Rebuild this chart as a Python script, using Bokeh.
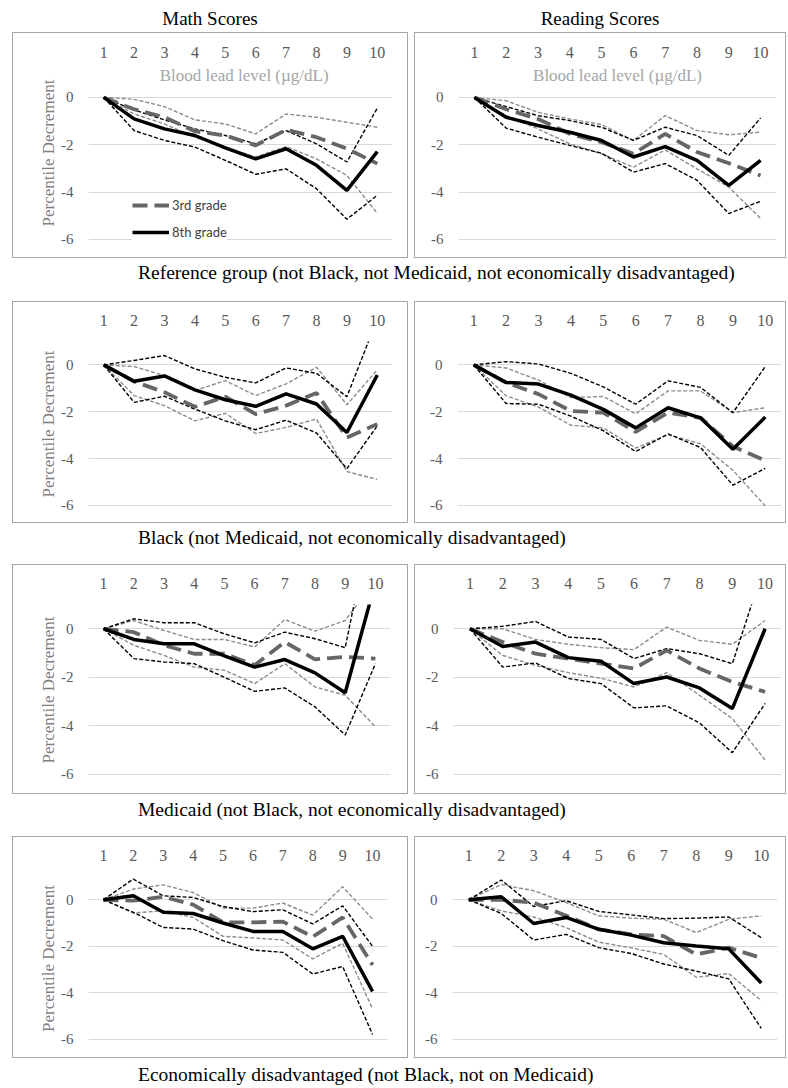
from bokeh.plotting import figure
from bokeh.layouts import column, row
from bokeh.models import Div, Spacer, Range1d, FixedTicker, Label, Legend, LegendItem
from bokeh.embed import file_html
from bokeh.resources import INLINE

# ---------------- data ----------------
lead_levels = [1, 2, 3, 4, 5, 6, 7, 8, 9, 10]
y_ticks = [0, -2, -4, -6]
y_tick_labels = {0: "0", -2: "-2", -4: "-4", -6: "-6"}
x_tick_labels = {i: str(i) for i in lead_levels}

column_titles = ["Math Scores", "Reading Scores"]
row_captions = [
    "Reference group (not Black, not Medicaid, not economically disadvantaged)",
    "Black (not Medicaid, not economically disadvantaged)",
    "Medicaid (not Black, not economically disadvantaged)",
    "Economically disadvantaged (not Black, not on Medicaid)",
]
series_names = ["3rd grade", "8th grade"]

# Reference group - Math
ref_math_g3 = [0, -0.50, -0.84, -1.43, -1.61, -2.03, -1.37, -1.68, -2.17, -2.80]
ref_math_g3_hi = [0, -0.08, -0.39, -0.95, -1.12, -1.54, -0.70, -0.84, -1.05, -1.26]
ref_math_g3_lo = [0, -0.70, -1.12, -1.68, -2.10, -2.52, -2.08, -2.60, -3.30, -4.90]
ref_math_g8 = [0, -0.91, -1.33, -1.61, -2.13, -2.60, -2.17, -2.87, -3.93, -2.29]
ref_math_g8_hi = [0, -0.53, -0.95, -1.33, -1.61, -1.96, -1.40, -1.96, -2.73, -0.45]
ref_math_g8_lo = [0, -1.40, -1.82, -2.10, -2.66, -3.25, -3.02, -3.86, -5.15, -4.14]

# Reference group - Reading
ref_read_g3 = [0, -0.50, -0.91, -1.54, -1.89, -2.38, -1.54, -2.31, -2.78, -3.30]
ref_read_g3_hi = [0, -0.14, -0.63, -0.91, -1.15, -1.82, -0.77, -1.40, -1.58, -1.47]
ref_read_g3_lo = [0, -0.77, -1.33, -1.96, -2.38, -2.95, -2.22, -3.02, -3.79, -5.12]
ref_read_g8 = [0, -0.84, -1.19, -1.47, -1.82, -2.52, -2.08, -2.66, -3.72, -2.66]
ref_read_g8_hi = [0, -0.39, -0.77, -0.98, -1.26, -1.82, -1.26, -1.61, -2.45, -0.87]
ref_read_g8_lo = [0, -1.30, -1.68, -2.03, -2.36, -3.16, -2.80, -3.50, -4.91, -4.39]

# Black - Math
blk_math_g3 = [0, -0.71, -1.17, -1.79, -1.36, -2.10, -1.74, -1.20, -3.10, -2.53]
blk_math_g3_hi = [0, -0.07, -0.46, -1.10, -0.67, -1.31, -0.81, -0.10, -1.70, -0.21]
blk_math_g3_lo = [0, -1.31, -1.74, -2.39, -2.07, -2.93, -2.67, -2.31, -4.56, -4.89]
blk_math_g8 = [0, -0.70, -0.47, -1.07, -1.49, -1.77, -1.24, -1.67, -2.89, -0.43]
blk_math_g8_hi = [0, 0.19, 0.40, -0.17, -0.53, -0.77, -0.13, -0.36, -1.36, 1.97]
blk_math_g8_lo = [0, -1.60, -1.34, -1.89, -2.39, -2.77, -2.36, -2.91, -4.43, -2.60]

# Black - Reading
blk_read_g3 = [0, -0.75, -1.25, -1.97, -2.04, -2.86, -2.04, -2.26, -3.48, -4.09]
blk_read_g3_hi = [0, -0.13, -0.65, -1.40, -1.35, -2.09, -1.11, -1.11, -2.04, -1.83]
blk_read_g3_lo = [0, -1.32, -1.80, -2.58, -2.69, -3.55, -2.98, -3.37, -4.50, -6.03]
blk_read_g8 = [0, -0.75, -0.82, -1.29, -1.90, -2.69, -1.83, -2.26, -3.60, -2.23]
blk_read_g8_hi = [0, 0.14, 0.04, -0.36, -0.94, -1.68, -0.68, -0.96, -2.04, -0.07]
blk_read_g8_lo = [0, -1.65, -1.68, -2.19, -2.81, -3.70, -2.95, -3.53, -5.14, -4.42]

# Medicaid - Math
med_math_g3 = [0, -0.14, -0.68, -1.03, -1.03, -1.50, -0.55, -1.26, -1.16, -1.23]
med_math_g3_hi = [0, 0.34, -0.07, -0.44, -0.44, -0.75, 0.38, -0.10, 0.34, 2.00]
med_math_g3_lo = [0, -0.68, -1.10, -1.58, -1.71, -2.26, -1.44, -2.40, -2.74, -4.04]
med_math_g8 = [0, -0.44, -0.62, -0.62, -1.12, -1.58, -1.27, -1.82, -2.64, 1.91]
med_math_g8_hi = [0, 0.41, 0.25, 0.25, -0.21, -0.58, -0.14, -0.41, -0.78, 5.30]
med_math_g8_lo = [0, -1.23, -1.37, -1.44, -2.00, -2.58, -2.44, -3.22, -4.38, -1.44]

# Medicaid - Reading
med_read_g3 = [0, -0.55, -1.03, -1.23, -1.44, -1.64, -0.89, -1.64, -2.19, -2.60]
med_read_g3_hi = [0, 0.00, -0.44, -0.64, -0.78, -0.86, 0.07, -0.48, -0.64, 0.34]
med_read_g3_lo = [0, -1.10, -1.51, -1.81, -2.04, -2.40, -1.81, -2.74, -3.70, -5.41]
med_read_g8 = [0, -0.73, -0.55, -1.19, -1.34, -2.26, -1.99, -2.44, -3.29, 0.00]
med_read_g8_hi = [0, 0.10, 0.30, -0.34, -0.44, -1.23, -0.82, -1.03, -1.44, 2.70]
med_read_g8_lo = [0, -1.58, -1.41, -2.05, -2.26, -3.26, -3.18, -3.88, -5.11, -3.08]

# Economically disadvantaged - Math
eco_math_g3 = [0, -0.04, 0.13, -0.21, -0.97, -0.97, -0.94, -1.59, -0.76, -2.80]
eco_math_g3_hi = [0, 0.46, 0.64, 0.31, -0.36, -0.36, -0.14, -0.66, 0.56, -0.83]
eco_math_g3_lo = [0, -0.57, -0.47, -0.76, -1.57, -1.64, -1.73, -2.54, -1.87, -4.69]
eco_math_g8 = [0, 0.17, -0.54, -0.59, -1.00, -1.36, -1.36, -2.11, -1.57, -3.94]
eco_math_g8_hi = [0, 0.89, 0.17, 0.10, -0.29, -0.51, -0.43, -1.04, -0.26, -2.00]
eco_math_g8_lo = [0, -0.54, -1.19, -1.26, -1.76, -2.16, -2.26, -3.19, -2.87, -5.79]

# Economically disadvantaged - Reading
eco_read_g3 = [0, 0.00, -0.12, -0.69, -1.27, -1.49, -1.56, -2.35, -2.06, -2.50]
eco_read_g3_hi = [0, 0.65, 0.39, -0.12, -0.69, -0.79, -0.84, -1.41, -0.84, -0.69]
eco_read_g3_lo = [0, -0.48, -0.74, -1.20, -1.82, -2.07, -2.35, -3.33, -3.17, -4.34]
eco_read_g8 = [0, 0.13, -1.02, -0.76, -1.27, -1.52, -1.85, -1.99, -2.11, -3.58]
eco_read_g8_hi = [0, 0.85, -0.29, -0.04, -0.50, -0.65, -0.81, -0.79, -0.74, -1.63]
eco_read_g8_lo = [0, -0.59, -1.73, -1.49, -2.06, -2.31, -2.76, -3.07, -3.40, -5.53]

panels = [
    [(ref_math_g3, ref_math_g3_lo, ref_math_g3_hi, ref_math_g8, ref_math_g8_lo, ref_math_g8_hi),
     (ref_read_g3, ref_read_g3_lo, ref_read_g3_hi, ref_read_g8, ref_read_g8_lo, ref_read_g8_hi)],
    [(blk_math_g3, blk_math_g3_lo, blk_math_g3_hi, blk_math_g8, blk_math_g8_lo, blk_math_g8_hi),
     (blk_read_g3, blk_read_g3_lo, blk_read_g3_hi, blk_read_g8, blk_read_g8_lo, blk_read_g8_hi)],
    [(med_math_g3, med_math_g3_lo, med_math_g3_hi, med_math_g8, med_math_g8_lo, med_math_g8_hi),
     (med_read_g3, med_read_g3_lo, med_read_g3_hi, med_read_g8, med_read_g8_lo, med_read_g8_hi)],
    [(eco_math_g3, eco_math_g3_lo, eco_math_g3_hi, eco_math_g8, eco_math_g8_lo, eco_math_g8_hi),
     (eco_read_g3, eco_read_g3_lo, eco_read_g3_hi, eco_read_g8, eco_read_g8_lo, eco_read_g8_hi)],
]

# ---------------- layout / style ----------------
SERIF = "Liberation Serif"
LEFT_W, RIGHT_W = 396, 372
# per row: (fig height, frame top, frame height, y max, x label standoff, left fw, right bl, right fw)
row_geom = [
    (226, 33, 175, 1.35, 8, 304, 44, 318),
    (222, 40, 165, 1.0, 16, 304, 43, 324),
    (230, 40, 171, 1.0, 16, 302, 39, 328),
    (222, 40, 164, 1.0, 16, 299, 38, 325),
]
caption_geom = [(43, 30), (41, 30), (42, 32), (22, 34)]


def make_panel(data, fig_h, top, fh, ymax, xstand, bl, fw, fig_w, is_left, first_row):
    g3, g3_lo, g3_hi, g8, g8_lo, g8_hi = data
    p = figure(frame_width=fw, frame_height=fh,
               min_border_left=bl, min_border_right=fig_w - bl - fw,
               min_border_top=top, min_border_bottom=fig_h - top - fh,
               x_range=Range1d(0.5, 10.5), y_range=Range1d(-6.05, ymax),
               x_axis_location="above", output_backend="svg",
               toolbar_location=None, tools="", margin=(0, 0, 0, 0))
    # panel border drawn beneath the (transparent) canvas
    p.styles = {"box-shadow": "inset 0 0 0 1px #a6a6a6"}
    p.outline_line_color = None
    p.background_fill_color = None
    p.border_fill_color = None

    p.xgrid.visible = False
    p.ygrid.ticker = FixedTicker(ticks=y_ticks)
    p.ygrid.grid_line_color = "#d9d9d9"
    p.ygrid.grid_line_width = 1

    xa = p.xaxis[0]
    xa.ticker = FixedTicker(ticks=lead_levels)
    xa.major_label_overrides = x_tick_labels
    xa.axis_line_color = None
    xa.major_tick_line_color = None
    xa.minor_tick_line_color = None
    xa.major_tick_out = 0
    xa.major_label_standoff = xstand
    xa.major_label_text_font = SERIF
    xa.major_label_text_font_size = "16px"
    xa.major_label_text_color = "#595959"

    ya = p.yaxis[0]
    ya.ticker = FixedTicker(ticks=y_ticks)
    ya.major_label_overrides = y_tick_labels
    ya.axis_line_color = None
    ya.major_tick_line_color = None
    ya.minor_tick_line_color = None
    ya.major_tick_out = 0
    ya.major_label_standoff = 15
    ya.major_label_text_font = SERIF
    ya.major_label_text_font_size = "15px"
    ya.major_label_text_color = "#595959"
    if is_left:
        ya.axis_label = "Percentile Decrement"
        ya.axis_label_text_font = SERIF
        ya.axis_label_text_font_size = "17px"
        ya.axis_label_text_font_style = "normal"
        ya.axis_label_text_color = "#7f7f7f"
        ya.axis_label_standoff = 0

    ci_w, ci_dash = 1.4, "4 2"
    p.line(lead_levels, g3_hi, line_color="#8c8c8c", line_width=ci_w, line_dash=ci_dash)
    p.line(lead_levels, g3_lo, line_color="#8c8c8c", line_width=ci_w, line_dash=ci_dash)
    p.line(lead_levels, g8_hi, line_color="black", line_width=ci_w, line_dash=ci_dash)
    p.line(lead_levels, g8_lo, line_color="black", line_width=ci_w, line_dash=ci_dash)
    r3 = p.line(lead_levels, g3, line_color="#666666", line_width=3.8, line_dash="15 7")
    r8 = p.line(lead_levels, g8, line_color="black", line_width=3.5)

    if first_row:
        p.add_layout(Label(x=5.62 if is_left else 5.5, y=0.92, text="Blood lead level (\u00b5g/dL)",
                           text_align="center", text_baseline="middle",
                           text_font=SERIF, text_font_size="17px", text_color="#a6a6a6"))
        if is_left:
            leg = Legend(items=[LegendItem(label=series_names[0], renderers=[r3]),
                                LegendItem(label=series_names[1], renderers=[r8])],
                         location=(44, 0), orientation="vertical",
                         glyph_width=37, glyph_height=16, label_height=16,
                         spacing=11, padding=3, margin=0, label_standoff=3,
                         label_text_font="Lato", label_text_font_size="13px",
                         label_text_color="#404040",
                         background_fill_color="white", background_fill_alpha=1.0,
                         border_line_color=None)
            p.add_layout(leg)
    return p


def title_div(text, width, pad):
    return Div(text=f'<div style="width:{width - pad}px;padding-left:{pad}px;text-align:center;'
                    f'font-family:\'{SERIF}\';font-size:19px;line-height:22px;color:#000;">{text}</div>',
               width=width, height=24, margin=(0, 0, 0, 0))


def caption_div(text, h, lh):
    return Div(text=f'<div style="padding-left:130px;white-space:nowrap;font-family:\'{SERIF}\';'
                    f'font-size:19.5px;line-height:{lh}px;color:#000;">{text}</div>',
               width=780, height=h, margin=(0, 0, 0, 0), styles={"overflow": "visible"})


children = [Spacer(width=780, height=8),
            row(Spacer(width=12, height=24), title_div(column_titles[0], LEFT_W, 24),
                Spacer(width=6, height=24), title_div(column_titles[1], RIGHT_W, 12))]
for i, (pair, geom) in enumerate(zip(panels, row_geom)):
    fig_h, top, fh, ymax, xstand, lfw, rbl, rfw = geom
    left = make_panel(pair[0], fig_h, top, fh, ymax, xstand, 76, lfw, LEFT_W, True, i == 0)
    right = make_panel(pair[1], fig_h, top, fh, ymax, xstand, rbl, rfw, RIGHT_W, False, i == 0)
    children.append(row(Spacer(width=12, height=fig_h), left, Spacer(width=6, height=fig_h), right))
    ch, lh = caption_geom[i]
    cap = caption_div(row_captions[i], ch, lh)
    children.append(row(Spacer(width=8, height=ch), cap))

page = column(*children)
open("out.html", "w").write(file_html(page, INLINE, title="Lead and test scores"))
